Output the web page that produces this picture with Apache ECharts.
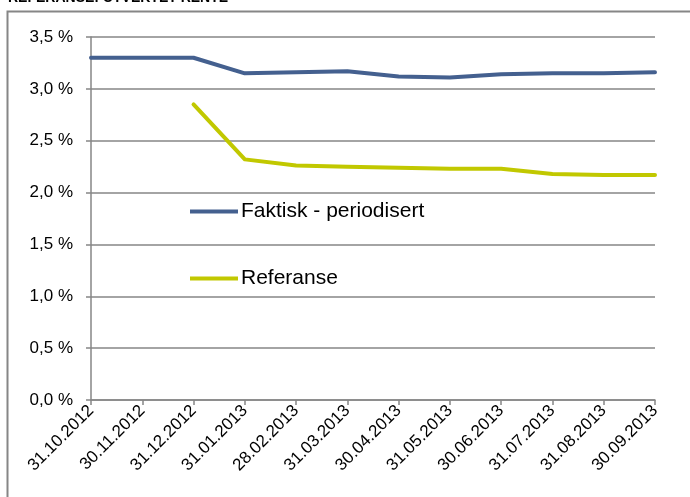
<!DOCTYPE html>
<html><head><meta charset="utf-8">
<script src="https://cdn.jsdelivr.net/npm/echarts@6/dist/echarts.min.js"></script>
<style>html,body{margin:0;padding:0;background:#fff}#c{width:690px;height:497px}</style>
</head><body><div id="c"></div>
<script>
const categories = ['31.10.2012','30.11.2012','31.12.2012','31.01.2013','28.02.2013','31.03.2013','30.04.2013','31.05.2013','30.06.2013','31.07.2013','31.08.2013','30.09.2013'];
const faktisk = [3.30, 3.30, 3.30, 3.15, 3.16, 3.17, 3.12, 3.11, 3.14, 3.15, 3.15, 3.16];
const referanse = [null, null, 2.85, 2.32, 2.26, 2.25, 2.24, 2.23, 2.23, 2.18, 2.17, 2.17];
const yTicks = [0, 0.5, 1.0, 1.5, 2.0, 2.5, 3.0, 3.5];
const seriesNames = ['Faktisk - periodisert', 'Referanse'];

const FONT = 'Liberation Sans';
const chart = echarts.init(document.getElementById('c'), null, {renderer: 'canvas'});
chart.setOption({
  animation: false,
  backgroundColor: '#fff',
  graphic: [
    {type: 'rect', shape: {x: 7.5, y: 11.5, width: 700, height: 500}, style: {fill: 'none', stroke: '#868686', lineWidth: 2}, silent: true},
    {type: 'text', x: 8, y: -9, style: {text: 'REFERANSE: UTVEKTET RENTE', font: 'bold 14px ' + FONT, fill: '#000'}}
  ],
  grid: {left: 91, right: 35, top: 37, bottom: 97, containLabel: false},
  legend: [
    {data: [seriesNames[0]], left: 190, top: 201, padding: 0, orient: 'vertical', icon: 'rect', itemWidth: 48, itemHeight: 4,
     textStyle: {fontFamily: FONT, fontSize: 21, color: '#000', padding: [0,0,0,-2]}},
    {data: [seriesNames[1]], left: 190, top: 268, padding: 0, orient: 'vertical', icon: 'rect', itemWidth: 48, itemHeight: 4,
     textStyle: {fontFamily: FONT, fontSize: 21, color: '#000', padding: [0,0,0,-2]}}
  ],
  xAxis: {
    type: 'category', data: categories, boundaryGap: false,
    axisLine: {lineStyle: {color: '#868686', width: 1.5}},
    axisTick: {show: true, length: 5, lineStyle: {color: '#868686', width: 1.5}},
    axisLabel: {rotate: 45, interval: 0, margin: 8, fontFamily: FONT, fontSize: 17, color: '#000'},
    splitLine: {show: false}
  },
  yAxis: {
    type: 'value', min: yTicks[0], max: yTicks[yTicks.length-1], interval: 0.5,
    axisLine: {show: true, lineStyle: {color: '#868686', width: 1.5}},
    axisTick: {show: true, length: 5, lineStyle: {color: '#868686', width: 1.5}},
    axisLabel: {margin: 18, fontFamily: FONT, fontSize: 17, color: '#000',
      formatter: v => v.toFixed(1).replace('.', ',') + ' %'},
    splitLine: {show: true, lineStyle: {color: '#868686', width: 1.5}}
  },
  series: [
    {name: seriesNames[0], type: 'line', data: faktisk, symbol: 'none', color: '#44608F',
     lineStyle: {width: 4, color: '#44608F', cap: 'round', join: 'round'}},
    {name: seriesNames[1], type: 'line', data: referanse, symbol: 'none', color: '#C1C800',
     lineStyle: {width: 4, color: '#C1C800', cap: 'round', join: 'round'}}
  ]
});
</script></body></html>
